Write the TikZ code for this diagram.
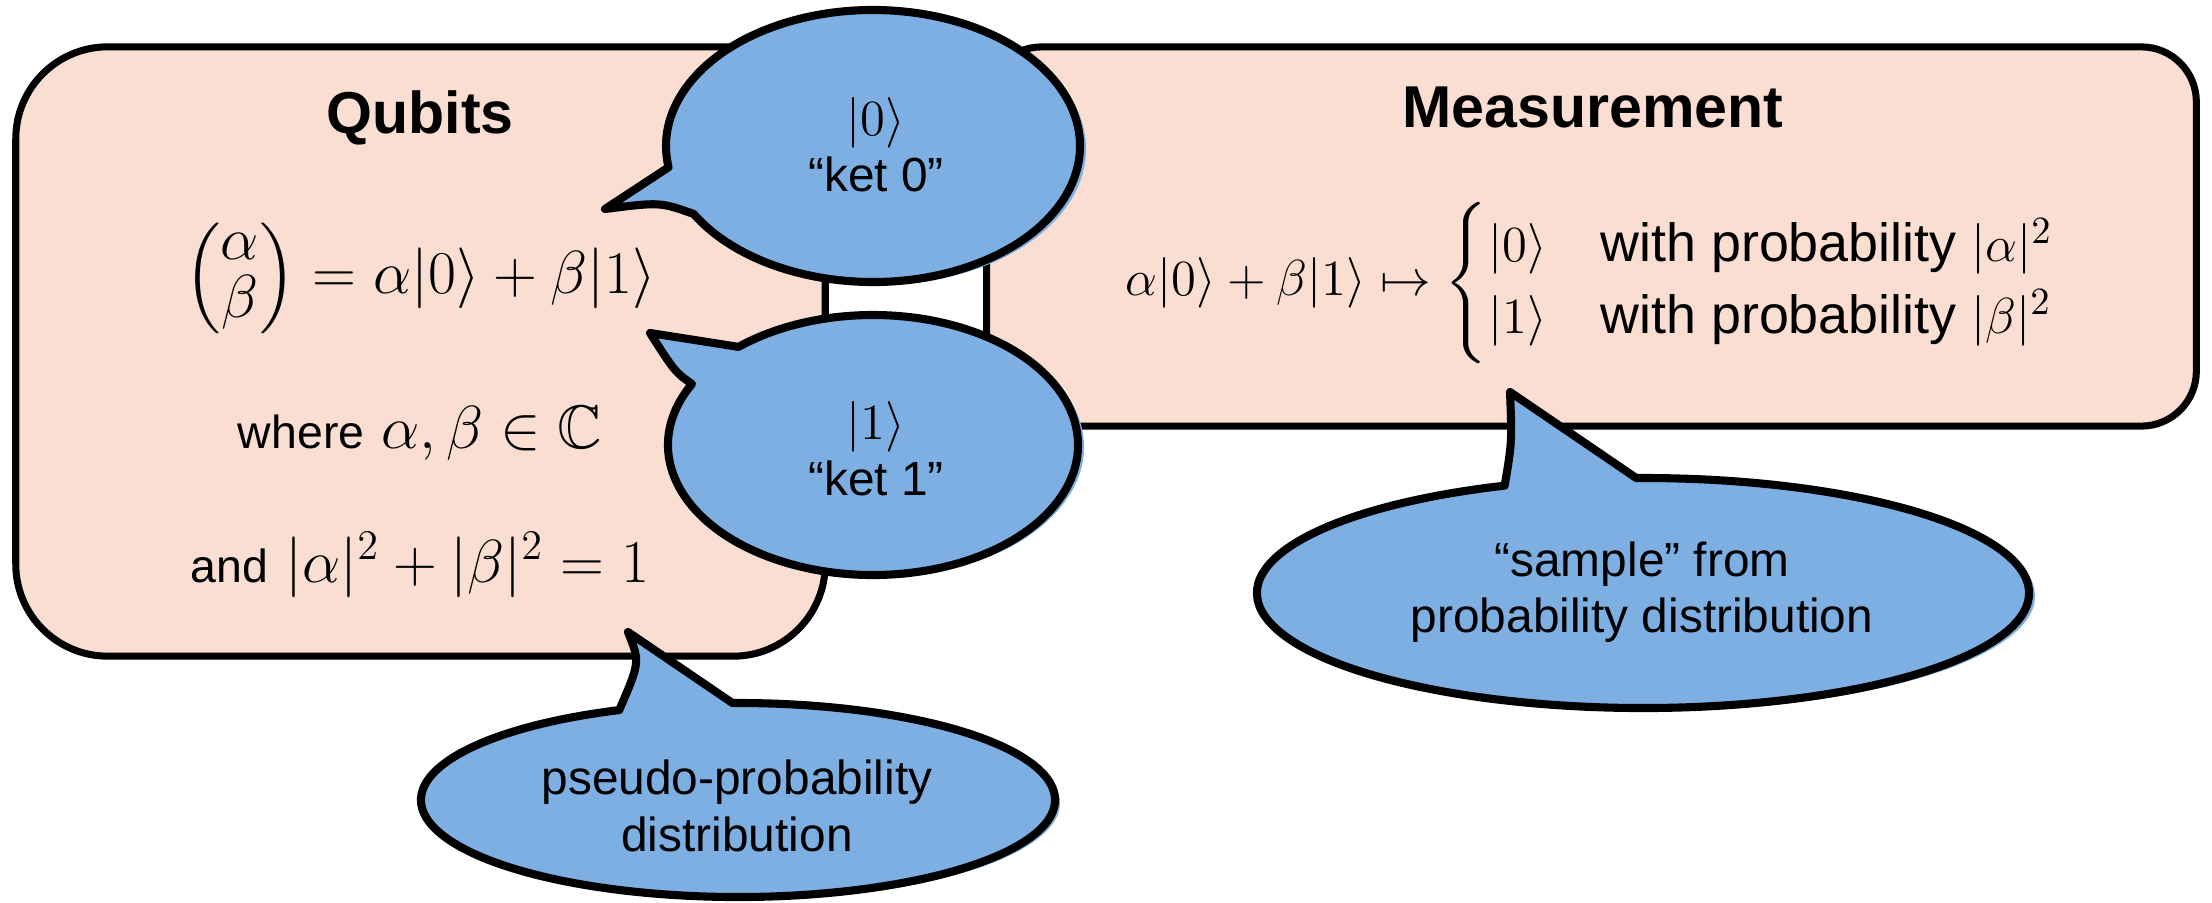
\documentclass[tikz,border=0pt]{standalone}
\usepackage[no-math]{fontspec}
\setmainfont{Liberation Sans}
\usepackage{amsmath,amssymb}

\definecolor{panelfill}{RGB}{250,222,210}
\definecolor{bubblefill}{RGB}{125,175,227}

\newcommand{\qket}[1]{\lvert #1\rangle}
% a tightly stacked two-entry column vector
\newcommand{\colvec}[2]{{\renewcommand{\arraystretch}{0.72}%
  \left(\begin{array}{@{}c@{}}#1\\#2\end{array}\right)}}

\tikzset{
  panel/.style={draw=black, line width=2pt, fill=panelfill, inner sep=0pt},
  bubble/.style={draw=black, line width=2.3pt, fill=bubblefill, line join=round},
  heading/.style={font=\fontsize{16.8}{20}\selectfont\bfseries, inner sep=0pt},
  mathtext/.style={font=\fontsize{17.5}{21}\selectfont, inner sep=0pt},
  bubbletext/.style={align=center, font=\fontsize{13.6}{16}\selectfont, inner sep=0pt},
}

% speech bubble: centre x, centre y, x radius, y radius,
% start angle, end angle (the tail sits in the gap), tip, control point, shadow shift
\newcommand{\speechbubble}[9]{%
  \fill[bubblefill, shift={#9}] ([shift={(#1,#2)}]#5:#3 and #4)
    arc[start angle=#5, end angle=#6, x radius=#3, y radius=#4]
    -- #7 .. controls #8 .. ([shift={(#1,#2)}]#5:#3 and #4) -- cycle;
  \path[bubble] ([shift={(#1,#2)}]#5:#3 and #4)
    arc[start angle=#5, end angle=#6, x radius=#3, y radius=#4]
    -- #7 .. controls #8 .. ([shift={(#1,#2)}]#5:#3 and #4) -- cycle;
}

\begin{document}
\begin{tikzpicture}[x=0.01cm, y=0.01cm]
\useasboundingbox (0,0) rectangle (2212,902);

% the two panels
\node[panel, rounded corners=0.92cm, minimum width=8.09cm, minimum height=6.09cm]
  (qubits) at (420.5,550.5) {};
\node[panel, rounded corners=0.55cm, minimum width=12.09cm, minimum height=3.79cm]
  (measure) at (1591.5,665.5) {};

% qubit panel contents
\node[heading] (qtitle) at (420,784) {Qubits};
\node[mathtext] (qstate) at (420,624)
  {$\colvec{\alpha}{\beta} = \alpha\qket{0} + \beta\qket{1}$};
\node[mathtext] (qcoef) at (420,469)
  {{\fontsize{13.2}{16}\selectfont where} $\alpha,\beta\in\mathbb{C}$};
\node[mathtext] (qnorm) at (420,337)
  {{\fontsize{13.2}{16}\selectfont and} $\lvert\alpha\rvert^2+\lvert\beta\rvert^2=1$};

% measurement panel contents
\node[heading] (mtitle) at (1593,795) {Measurement};
\node[font=\fontsize{15.3}{17}\selectfont, inner sep=0pt] (mrule) at (1591,619)
  {$\alpha\qket{0}+\beta\qket{1}\mapsto
    \begin{cases}
      \qket{0} & \text{with probability } \lvert\alpha\rvert^2\\
      \qket{1} & \text{with probability } \lvert\beta\rvert^2
    \end{cases}$};

% speech bubbles
\speechbubble{873}{756}{207}{136}{210}{549}{(605,693)}{(660,700)}{(6,-3)}
\speechbubble{873}{457}{205}{130}{152}{491}{(650,569)}{(675,530)}{(6,-2)}
\speechbubble{738}{102}{317}{97}{112}{451}{(628,270)}{(640,240)}{(5,-3)}
\speechbubble{1643}{309}{386}{115}{111}{451}{(1510,510)}{(1512,460)}{(6,-3)}

\node[bubbletext] (k0) at (876,757) {$\qket{0}$\\“ket 0”};
\node[bubbletext] (k1) at (876,453) {$\qket{1}$\\“ket 1”};
\node[bubbletext] (pseudo) at (737,96) {pseudo-probability\\distribution};
\node[bubbletext] (sample) at (1642,310) {“sample” from\\probability distribution};
\end{tikzpicture}
\end{document}
